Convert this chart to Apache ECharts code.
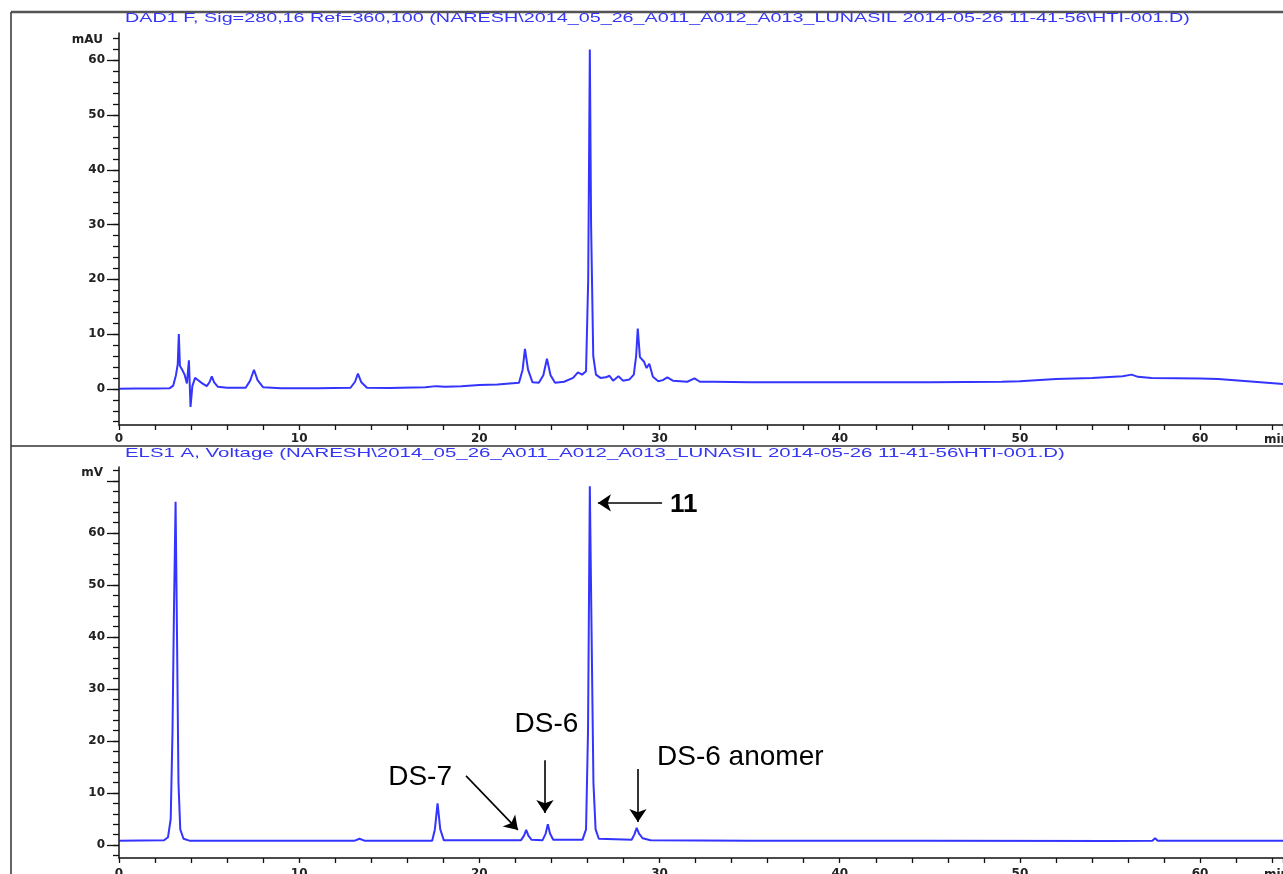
<!DOCTYPE html>
<html>
<head>
<meta charset="utf-8">
<script src="https://cdn.jsdelivr.net/npm/echarts@6/dist/echarts.min.js"></script>
<style>
html,body{margin:0;padding:0;background:#fff;overflow:hidden;}
#chart{width:1283px;height:874px;}
</style>
</head>
<body>
<div id="chart"></div>
<script>
// ---- Titles ----
const dadTitle = 'DAD1 F, Sig=280,16 Ref=360,100 (NARESH\\2014_05_26_A011_A012_A013_LUNASIL 2014-05-26 11-41-56\\HTI-001.D)';
const elsTitle = 'ELS1 A, Voltage (NARESH\\2014_05_26_A011_A012_A013_LUNASIL 2014-05-26 11-41-56\\HTI-001.D)';

// ---- DAD1 (UV 280 nm) trace: retention time (min) / signal (mAU) ----
const dadTime = [0, 1, 2, 2.8, 3.01, 3.16, 3.26, 3.32, 3.38, 3.52, 3.64, 3.77, 3.88, 3.97, 4.07, 4.22, 4.34, 4.62, 4.87, 5.02,
  5.15, 5.28, 5.48, 6.0, 7.03, 7.28, 7.49, 7.69, 7.99, 9, 11, 12.85, 13.1, 13.26, 13.45, 13.76, 15, 17, 17.6, 18.1,
  19, 20, 21, 22.2, 22.4, 22.53, 22.7, 22.95, 23.3, 23.55, 23.75, 23.95, 24.2, 24.7, 25.2, 25.47, 25.7, 25.92, 26.04, 26.13,
  26.2, 26.32, 26.47, 26.72, 27.02, 27.22, 27.42, 27.72, 27.97, 28.32, 28.57, 28.7, 28.79, 28.91, 29.13, 29.28, 29.43, 29.63, 29.93, 30.18,
  30.43, 30.74, 31.54, 31.94, 32.24, 33, 35, 40, 45, 49, 50, 52, 54, 55.7, 56.2, 56.55, 57.3, 60, 61, 63, 64.6];
const dadSignal = [0.0, 0.05, 0.05, 0.1, 0.6, 2.5, 4.5, 10.0, 4.2, 3.4, 2.6, 1.0, 5.2, -3.3, 0.5, 2.0, 1.7, 1.0, 0.5, 1.2,
  2.3, 1.2, 0.4, 0.2, 0.2, 1.5, 3.5, 1.6, 0.3, 0.1, 0.1, 0.2, 1.3, 2.8, 1.2, 0.2, 0.15, 0.3, 0.5, 0.4,
  0.5, 0.7, 0.8, 1.1, 3.5, 7.3, 3.5, 1.2, 1.1, 2.5, 5.5, 2.5, 1.1, 1.3, 2.0, 3.0, 2.6, 3.2, 20, 62,
  30, 6, 2.6, 2.0, 2.1, 2.4, 1.5, 2.3, 1.5, 1.7, 2.6, 6, 11.0, 5.8, 5.0, 3.8, 4.6, 2.2, 1.4, 1.6,
  2.1, 1.5, 1.3, 1.9, 1.3, 1.3, 1.2, 1.2, 1.2, 1.3, 1.4, 1.8, 2.0, 2.3, 2.6, 2.2, 2.0, 1.9, 1.8, 1.3, 0.9];

// ---- ELS1 (ELSD) trace: retention time (min) / signal (mV) ----
const elsTime = [0, 2.5, 2.72, 2.87, 2.97, 3.05, 3.14, 3.22, 3.3, 3.4, 3.58, 3.95, 13.05, 13.35, 13.65, 17.38, 17.53, 17.68, 17.83, 18.03,
  22.3, 22.48, 22.6, 22.72, 22.9, 23.5, 23.68, 23.8, 23.92, 24.1, 25.72, 25.92, 26.03, 26.13, 26.23, 26.33, 26.45, 26.63, 28.45, 28.6,
  28.73, 28.86, 29.06, 29.5, 35, 45, 55, 57.35, 57.5, 57.65, 64.6];
const elsSignal = [0.8, 0.9, 1.5, 5, 22, 45, 66, 40, 12, 3, 1.2, 0.8, 0.8, 1.2, 0.8, 0.8, 3, 8.0, 3, 0.9,
  0.9, 1.8, 2.9, 1.8, 1.0, 0.9, 2.2, 4.0, 2.2, 1.0, 1.0, 3, 22, 69, 40, 12, 3, 1.2, 1.0, 2.0,
  3.3, 2.2, 1.3, 0.9, 0.8, 0.8, 0.75, 0.8, 1.3, 0.8, 0.8];

// ---- Axis ticks ----
const dadMinorTicks = [-6, -4, -2, 0, 2, 4, 6, 8, 10, 12, 14, 16, 18, 20, 22, 24, 26, 28, 30, 32, 34, 36, 38, 40, 42, 44, 46, 48, 50, 52, 54, 56, 58, 60, 62, 64];
const dadMajorTicks = [0, 10, 20, 30, 40, 50, 60];
const elsMinorTicks = [-2, 0, 2, 4, 6, 8, 10, 12, 14, 16, 18, 20, 22, 24, 26, 28, 30, 32, 34, 36, 38, 40, 42, 44, 46, 48, 50, 52, 54, 56, 58, 60, 62, 64, 66, 68, 70, 72];
const elsMajorTicks = [0, 10, 20, 30, 40, 50, 60, 70];
const elsLabels = [0, 10, 20, 30, 40, 50, 60];

// ---- Peak annotations (ELS panel) ----
const annoLabels = ['11', 'DS-7', 'DS-6', 'DS-6 anomer'];
const annoLabelAt = [[30.58, 65.4], [18.48, 13.1], [23.72, 23.2], [29.86, 16.9]];
const arrowFrom = [[30.14, 65.8], [19.26, 13.3], [23.64, 16.3], [28.8, 14.6]];
const arrowTo = [[26.58, 65.8], [22.14, 2.9], [23.64, 6.15], [28.8, 4.4]];

const zip = (a, b) => a.map((t, i) => [t, b[i]]);

const labelFont = {fontFamily: 'DejaVu Sans', fontSize: 12, fontWeight: 'bold', color: '#222'};
const axisColor = '#111';

function xAxisCfg(gridIndex, margin) {
  return {
    type: 'value', gridIndex, min: 0, max: 64.6, interval: 2,
    name: 'min', nameLocation: 'end', nameGap: -19,
    nameTextStyle: Object.assign({}, labelFont, {align: 'left', verticalAlign: 'top', padding: [margin + 1, 0, 0, 0]}),
    axisLine: {show: true, onZero: false, lineStyle: {color: axisColor, width: 1.5}},
    axisTick: {show: true, length: 5, lineStyle: {color: axisColor, width: 1.3}},
    axisLabel: Object.assign({}, labelFont, {margin: margin, formatter: v => (v % 10 === 0 ? String(v) : '')}),
    splitLine: {show: false}
  };
}

function yMinorCfg(gridIndex, min, max, ticks) {
  return {
    type: 'value', gridIndex, position: 'left', min, max,
    axisLine: {show: true, onZero: false, lineStyle: {color: axisColor, width: 1.5}},
    axisTick: {show: true, length: 6, customValues: ticks, lineStyle: {color: axisColor, width: 1.3}},
    axisLabel: {show: false},
    splitLine: {show: false}
  };
}

function yMajorCfg(gridIndex, min, max, ticks, labels, unit, nameGap) {
  return {
    type: 'value', gridIndex, position: 'left', min, max,
    name: unit, nameLocation: 'end', nameGap: nameGap,
    nameTextStyle: Object.assign({}, labelFont, {align: 'right', verticalAlign: 'middle', padding: [0, 16, 0, 0]}),
    axisLine: {show: false},
    axisTick: {show: true, length: 12, customValues: ticks, lineStyle: {color: axisColor, width: 1.3}},
    axisLabel: Object.assign({}, labelFont, {margin: 14, customValues: labels}),
    splitLine: {show: false}
  };
}

const lineStyle = {color: '#1010ff', width: 2, opacity: 0.85};

const markLineData = arrowFrom.map((f, i) => [{coord: f}, {coord: arrowTo[i]}]);
const markPointData = annoLabels.map((txt, i) => {
  const pos = i === 1 ? 'left' : (i === 2 ? 'inside' : 'right');
  return {
    coord: annoLabelAt[i], symbol: 'rect', symbolSize: 0,
    label: {
      show: true, position: pos, distance: 0, formatter: txt, color: '#000',
      fontFamily: 'Liberation Sans, Arial, sans-serif',
      fontSize: i === 0 ? 26 : 28, fontWeight: i === 0 ? 'bold' : 'normal'
    }
  };
});

const titleStyle = {font: '13px "Liberation Sans", Arial, sans-serif', fill: '#3535f5', verticalAlign: 'middle', align: 'left'};

const chart = echarts.init(document.getElementById('chart'), null, {renderer: 'canvas'});
chart.setOption({
  animation: false,
  backgroundColor: '#ffffff',
  grid: [
    {left: 119, right: 0, top: 33, height: 392, containLabel: false, outerBoundsMode: 'none'},
    {left: 119, right: 0, top: 467, height: 391, containLabel: false, outerBoundsMode: 'none'}
  ],
  xAxis: [xAxisCfg(0, 8), xAxisCfg(1, 10)],
  yAxis: [
    yMinorCfg(0, -6.6, 65, dadMinorTicks),
    yMajorCfg(0, -6.6, 65, dadMajorTicks, dadMajorTicks, 'mAU', -7),
    yMinorCfg(1, -2.5, 72.7, elsMinorTicks),
    yMajorCfg(1, -2.5, 72.7, elsMajorTicks, elsLabels, 'mV', -6)
  ],
  series: [
    {type: 'line', xAxisIndex: 0, yAxisIndex: 0, data: zip(dadTime, dadSignal), showSymbol: false, symbol: 'none', lineStyle, silent: true},
    {type: 'line', xAxisIndex: 1, yAxisIndex: 2, data: zip(elsTime, elsSignal), showSymbol: false, symbol: 'none', lineStyle, silent: true,
      markLine: {
        silent: true, symbol: ['none', 'arrow'], symbolSize: 13, precision: 3,
        label: {show: false},
        lineStyle: {color: '#000', width: 1.6, type: 'solid'},
        data: markLineData
      },
      markPoint: {silent: true, data: markPointData}
    }
  ],
  graphic: [
    {type: 'line', shape: {x1: 11, y1: 12, x2: 1283, y2: 12}, style: {stroke: '#555', lineWidth: 2.5}},
    {type: 'line', shape: {x1: 11, y1: 12, x2: 11, y2: 874}, style: {stroke: '#333', lineWidth: 1.5}},
    {type: 'line', shape: {x1: 11, y1: 446, x2: 1283, y2: 446}, style: {stroke: '#333', lineWidth: 1.5}},
    {type: 'text', x: 125, y: 18, scaleX: 1.52, style: Object.assign({text: dadTitle}, titleStyle)},
    {type: 'text', x: 125, y: 453, scaleX: 1.57, style: Object.assign({text: elsTitle}, titleStyle)}
  ]
});
</script>
</body>
</html>
